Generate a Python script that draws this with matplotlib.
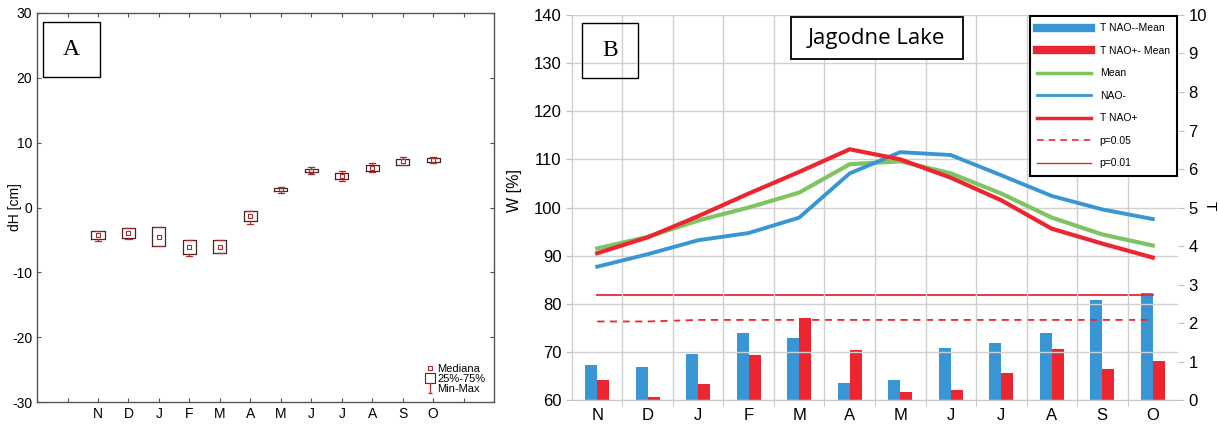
import matplotlib
matplotlib.use("Agg")
import matplotlib.pyplot as plt
from matplotlib.lines import Line2D
from matplotlib.patches import Rectangle
from matplotlib.path import Path
import numpy as np

plt.rcParams['font.family'] = ['Liberation Sans', 'DejaVu Sans']
plt.rcParams['axes.unicode_minus'] = False

months = ['N', 'D', 'J', 'F', 'M', 'A', 'M', 'J', 'J', 'A', 'S', 'O']

# Panel A: dH [cm] box statistics
a_med = [-4.2, -3.9, -4.5, -6.15, -6.1, -1.3, 2.8, 5.7, 4.9, 6.1, 7.1, 7.3]
a_q1 = [-4.8, -4.7, -5.95, -7.1, -7.0, -2.1, 2.5, 5.4, 4.4, 5.6, 6.6, 7.0]
a_q3 = [-3.7, -3.1, -3.0, -5.0, -5.0, -0.6, 3.0, 6.0, 5.3, 6.5, 7.5, 7.6]
a_min = [-5.1, -4.8, -5.95, -7.5, -7.0, -2.5, 2.3, 5.1, 4.15, 5.5, 6.5, 6.9]
a_max = [-3.7, -3.1, -3.0, -5.0, -5.0, -0.6, 3.2, 6.3, 5.6, 6.9, 7.85, 7.75]

# Panel B: lines (W [%], left axis)
w_mean = [91.5, 93.9, 97.3, 100.0, 103.1, 109.0, 109.6, 107.1, 102.9, 97.9, 94.4, 92.1]
w_nao_minus = [87.7, 90.3, 93.2, 94.7, 97.9, 107.1, 111.5, 110.9, 106.7, 102.4, 99.6, 97.6]
w_nao_plus = [90.5, 93.8, 98.2, 102.9, 107.4, 112.1, 110.0, 106.2, 101.5, 95.6, 92.5, 89.6]

# Panel B: bars (T, right axis)
t_nao_minus_mean = [0.92, 0.85, 1.20, 1.73, 1.60, 0.45, 0.52, 1.36, 1.48, 1.73, 2.61, 2.77]
t_nao_plus_mean = [0.53, 0.09, 0.41, 1.17, 2.13, 1.29, 0.21, 0.25, 0.69, 1.33, 0.81, 1.01]
p005 = [2.04, 2.04, 2.08, 2.08, 2.08, 2.08, 2.08, 2.08, 2.08, 2.08, 2.08, 2.08]
p001 = [2.72] * 12

BLUE = '#3896d4'
RED = '#ec2630'
GREEN = '#7ec463'
BOXC = '#4a2525'
BRED = '#b02a2a'

fig = plt.figure(figsize=(12.19, 4.26), dpi=100)

# ---------------- Panel A ----------------
axA = fig.add_axes([0.0304, 0.0563, 0.3749, 0.9132])
posA = np.arange(2, 14)
stats = []
for i in range(12):
    stats.append(dict(med=a_med[i], q1=a_q1[i], q3=a_q3[i],
                      whislo=a_min[i], whishi=a_max[i], fliers=[]))
axA.bxp(stats, positions=posA, widths=0.43, showfliers=False,
        boxprops=dict(color=BOXC, lw=0.9),
        whiskerprops=dict(color=BRED, lw=0.9),
        capprops=dict(color=BRED, lw=0.9),
        medianprops=dict(linestyle='none'),
        capwidths=0.2, manage_ticks=False)
axA.plot(posA, a_med, ls='none', marker='s', ms=3.5, mfc='none', mec=BRED, mew=0.8)
axA.set_xlim(0, 15)
axA.set_ylim(-30, 30)
axA.set_yticks(np.arange(-30, 31, 10))
axA.set_xticks(np.arange(1, 15))
axA.set_xticklabels([''] + months + [''])
axA.tick_params(direction='in', top=True, right=True, length=3, labelsize=10,
                color='#555555')
for s in axA.spines.values():
    s.set_color('#555555')
    s.set_linewidth(1.0)
axA.set_ylabel('dH [cm]', fontsize=10)
axA.yaxis.set_label_coords(-0.034, 0.5)

axA.add_patch(Rectangle((0.013, 0.835), 0.125, 0.142, transform=axA.transAxes,
                        fill=False, ec='black', lw=1.0))
axA.text(0.0755, 0.906, 'A', transform=axA.transAxes, ha='center', va='center',
         fontsize=17, family='Liberation Serif')

Ipath = Path([(-0.5, 1), (0.5, 1), (0, 1), (0, -1), (-0.5, -1), (0.5, -1)],
             [Path.MOVETO, Path.LINETO, Path.MOVETO, Path.LINETO, Path.MOVETO, Path.LINETO])
hA = [Line2D([], [], ls='none', marker='s', ms=3.5, mfc='none', mec=BRED, mew=0.8),
      Line2D([], [], ls='none', marker='s', ms=7, mfc='none', mec=BOXC, mew=0.8),
      Line2D([], [], ls='none', marker=Ipath, ms=7, mfc='none', mec=BRED, mew=0.9)]
legA = axA.legend(hA, ['Mediana', '25%-75%', 'Min-Max'], loc='lower right',
                  frameon=False, fontsize=8, handlelength=0.8, handletextpad=0.25,
                  labelspacing=0.0, borderaxespad=0.35)

# ---------------- Panel B ----------------
axB = fig.add_axes([0.4692, 0.061, 0.4972, 0.9038])
axT = axB.twinx()
x = np.arange(12)

axB.plot(x, w_mean, color=GREEN, lw=3.0, zorder=3)
axB.plot(x, w_nao_minus, color=BLUE, lw=2.8, zorder=3)
axB.plot(x, w_nao_plus, color=RED, lw=3.0, zorder=4)
axB.set_ylim(60, 140)
axB.set_yticks(np.arange(60, 141, 10))
axB.set_xlim(-0.5, 11.5)
axB.set_xticks(x)
axB.set_xticklabels(months)
axB.set_xticks(np.arange(0.5, 11, 1), minor=True)
axB.grid(True, which='major', axis='y', color='#d0d0d0', lw=1.0)
axB.grid(True, which='minor', axis='x', color='#d0d0d0', lw=1.0)
axB.tick_params(axis='x', which='major', length=0, labelsize=12, pad=6)
axB.tick_params(axis='x', which='minor', length=4, color='#c0c0c0')
axB.tick_params(axis='y', length=4, color='#c0c0c0', labelsize=12)
for k in ['top', 'right']:
    axB.spines[k].set_visible(False)
for k in ['left', 'bottom']:
    axB.spines[k].set_color('#c8c8c8')
axB.set_ylabel('W [%]', fontsize=11.5)
axB.yaxis.set_label_coords(-0.083, 0.545)
axB.set_axisbelow(True)

bw = 0.24
axT.bar(x - bw / 2, t_nao_minus_mean, width=bw, color=BLUE, zorder=2)
axT.bar(x + bw / 2, t_nao_plus_mean, width=bw, color=RED, zorder=2)
axT.plot(x, p005, color=RED, lw=1.3, ls=(0, (4, 3)), zorder=3)
axT.plot(x, p001, color=RED, lw=1.3, zorder=3)
axT.set_ylim(0, 10)
axT.set_yticks(np.arange(0, 11, 1))
axT.tick_params(axis='y', length=4, color='#c0c0c0', labelsize=12)
for s in axT.spines.values():
    s.set_visible(False)
axT.set_ylabel('T', fontsize=11, rotation=-90, va='center', ha='center',
               rotation_mode='default')
axT.yaxis.set_label_coords(1.052, 0.505)
axB.set_zorder(axT.get_zorder() + 1)
axB.patch.set_visible(False)

axB.add_patch(Rectangle((0.0165, 0.836), 0.0925, 0.143, transform=axB.transAxes,
                        fill=False, ec='black', lw=1.0, zorder=5))
axB.text(0.063, 0.907, 'B', transform=axB.transAxes, ha='center', va='center',
         fontsize=17, family='Liberation Serif', zorder=5)
axB.add_patch(Rectangle((0.361, 0.886), 0.284, 0.109, transform=axB.transAxes,
                        fc='white', ec='black', lw=1.3, zorder=5))
axB.text(0.503, 0.940, 'Jagodne Lake', transform=axB.transAxes, ha='center',
         va='center', fontsize=16, family='Open Sans', zorder=6)

hB = [Line2D([], [], color=BLUE, lw=6),
      Line2D([], [], color=RED, lw=6),
      Line2D([], [], color=GREEN, lw=2.5),
      Line2D([], [], color=BLUE, lw=2.0),
      Line2D([], [], color=RED, lw=2.5),
      Line2D([], [], color=RED, lw=1.2, ls=(0, (4, 3))),
      Line2D([], [], color=RED, lw=1.0)]
legB = axB.legend(hB, ['T NAO--Mean', 'T NAO+- Mean', 'Mean', 'NAO-', 'T NAO+',
                       'p=0.05', 'p=0.01'],
                  loc='upper right', fontsize=7.5, handlelength=5.2,
                  labelspacing=1.2, borderaxespad=0.1, fancybox=False,
                  framealpha=1, edgecolor='black', borderpad=0.7, handletextpad=0.8)
legB.get_frame().set_linewidth(1.5)
legB.set_zorder(10)

fig.savefig('out.png', dpi=100)
